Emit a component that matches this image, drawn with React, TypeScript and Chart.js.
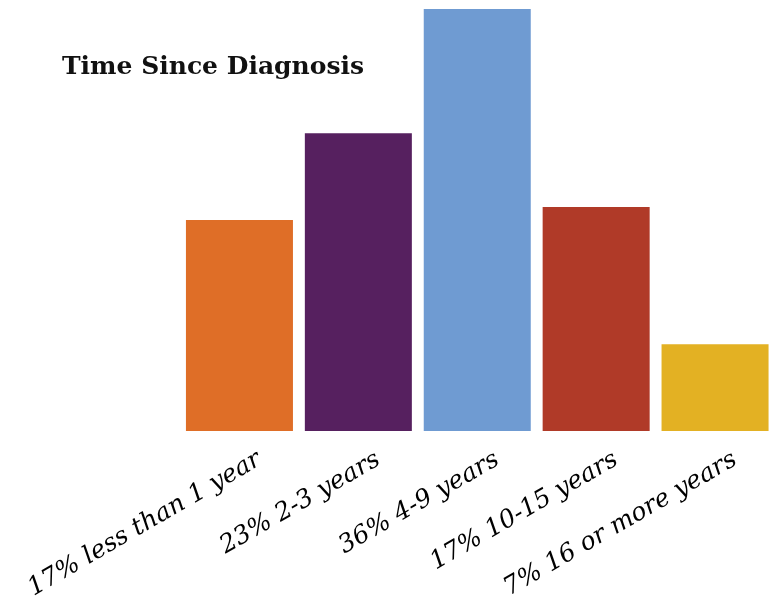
import React, { useEffect, useRef } from "react";
import { Chart, registerables } from "chart.js";

Chart.register(...registerables);

const categories = [
  "17% less than 1 year",
  "23% 2-3 years",
  "36% 4-9 years",
  "17% 10-15 years",
  "7% 16 or more years",
];
const values = [18.0, 25.4, 36.0, 19.1, 7.4];
const colors = ["#DF6E27", "#56205F", "#6F9BD2", "#B03A28", "#E3B123"];
const titleText = "Time Since Diagnosis";

export default function App() {
  const ref = useRef<HTMLCanvasElement | null>(null);
  useEffect(() => {
    if (!ref.current) return;
    const chart = new Chart(ref.current, {
      type: "bar",
      data: {
        labels: categories,
        datasets: [
          {
            data: values,
            backgroundColor: colors,
            borderWidth: 0,
            barPercentage: 0.9,
            categoryPercentage: 1,
          },
        ],
      },
      options: {
        animation: false,
        responsive: false,
        maintainAspectRatio: false,
        layout: { padding: { left: 180, right: 5.5, top: 9, bottom: 0 } },
        plugins: { legend: { display: false }, tooltip: { enabled: false }, title: { display: false } },
        scales: {
          y: { display: false, min: 0, max: 36 },
          x: {
            grid: { display: false, drawTicks: false },
            border: { display: false },
            afterFit: (s: any) => {
              s.height = 169;
              s.paddingLeft = 0;
              s.paddingRight = 0;
            },
            ticks: {
              minRotation: 30,
              maxRotation: 30,
              autoSkip: false,
              padding: 14,
              labelOffset: 20,
              color: "#000",
              font: { family: "DejaVu Serif", style: "italic", size: 25 },
            },
          },
        },
      },
    });
    return () => chart.destroy();
  }, []);
  return (
    <div style={{ position: "absolute", left: 0, top: 0, width: 770, height: 600, overflow: "hidden", background: "#fff" }}>
      <canvas ref={ref} width={780} height={600} style={{ width: 780, height: 600, display: "block" }} />
      <div
        style={{
          position: "absolute",
          left: 62,
          top: 51,
          fontFamily: "DejaVu Serif",
          fontWeight: "bold",
          fontSize: 25,
          color: "#111",
          whiteSpace: "nowrap",
        }}
      >
        {titleText}
      </div>
    </div>
  );
}
